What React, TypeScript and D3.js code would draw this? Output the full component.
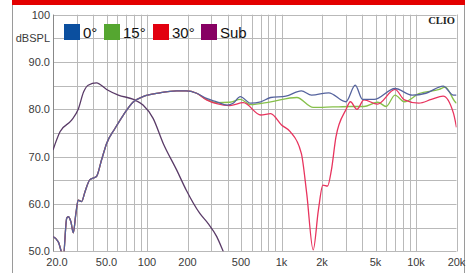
import { useEffect, useRef } from "react";
import * as d3 from "d3";

// frequency (Hz), level (dBSPL)
const lowShared: [number, number][] = [
  [20, 53.1], [21.9, 52.0], [23.2, 49.6], [23.8, 48.5], [25.3, 57], [26, 57.3], [27.2, 56.2],
  [28.3, 53.9], [29.6, 58], [30.8, 60.8], [32.6, 60.5], [34.6, 62.6], [37.5, 65.1],
  [42.1, 65.8], [45.9, 69.3], [50.1, 72.8], [57.9, 76], [66.7, 78.8], [79.3, 81.6],
  [93.4, 82.7], [125, 83.5], [166, 83.9], [196, 83.9], [234, 83.4],
];
const resp0: [number, number][] = [
  [277, 82.3], [330, 81.6], [394, 80.9], [437, 81.3], [494, 82.7], [588, 81.3],
  [701, 81.6], [831, 82.5], [1078, 82.8], [1404, 83.9], [1673, 83], [2244, 83.5],
  [3010, 81.6], [3534, 85.1], [4000, 82.1], [4880, 82.1], [6980, 84.4], [9390, 83],
  [11850, 83.4], [15900, 84.9], [18980, 83], [20000, 83],
];
const resp15: [number, number][] = [
  [277, 82.1], [330, 81.4], [413, 81.5], [494, 82.1], [588, 81.0], [831, 81.6],
  [1300, 82.5], [1720, 80.4], [2400, 80.5], [3250, 80.6], [4100, 80.6], [5200, 81.5],
  [6000, 80.6], [6980, 83], [8200, 81.6], [10500, 83.3], [14900, 84.2], [16500, 84.7],
  [19500, 81.6], [20000, 81.3],
];
const resp30: [number, number][] = [
  [277, 82.0], [330, 81.2], [413, 80.8], [520, 81.4], [701, 78.8], [831, 79.1],
  [1000, 76.7], [1160, 75.3], [1404, 70.7], [1540, 62.2], [1720, 50.3], [1880, 58.7],
  [2030, 64], [2200, 63.8], [2350, 67.2], [2540, 74.2], [3010, 79.9], [3250, 81.6],
  [3640, 80], [4100, 82], [5160, 81.1], [6980, 84.2], [8200, 82], [10500, 81.3],
  [13000, 82.1], [15900, 82.8], [18980, 79.2], [20000, 76.2],
];
const sub: [number, number][] = [
  [20, 71.4], [22.6, 75.3], [27.5, 77.7], [30.8, 80], [33.8, 83.7], [36.5, 85.1],
  [42.1, 85.6], [50.1, 84.2], [61.2, 83.0], [79.3, 82.1], [93.4, 80.9], [111, 78.1],
  [132, 72.8], [166, 67.2], [196, 62.9], [247, 58], [284, 55.9], [330, 53.1],
  [367, 50.1], [400, 47.5],
];

const legend = [
  { label: "0°", color: "#0b4f9f" },
  { label: "15°", color: "#55a630" },
  { label: "30°", color: "#e2000f" },
  { label: "Sub", color: "#870063" },
];
const yTicks = [50, 60, 70, 80, 90, 100];
const yLabels = ["50.0", "60.0", "70.0", "80.0", "90.0", "100"];
const xLabelFreqs = [20, 50, 100, 200, 500, 1000, 2000, 5000, 10000, 20000];
const xLabels = ["20.0", "50.0", "100", "200", "500", "1k", "2k", "5k", "10k", "20k"];

export default function App() {
  const svgRef = useRef<SVGSVGElement>(null);
  const width = 473;
  const height = 273;

  useEffect(() => {
    const svg = d3.select(svgRef.current);
    svg.selectAll("*").remove();

    const x = d3.scaleLog().domain([20, 20000]).range([53, 456.5]);
    const y = d3.scaleLinear().domain([50, 100]).range([251.3, 14.7]);

    // frame
    svg.append("rect").attr("x", 12).attr("y", 0).attr("width", 453).attr("height", 5).attr("fill", "#e30000");
    svg.append("line").attr("x1", 12.5).attr("x2", 12.5).attr("y1", 5).attr("y2", height).attr("stroke", "#9a9a9a");
    svg.append("line").attr("x1", 464.5).attr("x2", 464.5).attr("y1", 5).attr("y2", height).attr("stroke", "#9a9a9a");

    const grid = svg.append("g").attr("stroke", "#b9b9b9").attr("stroke-width", 1);
    const gridFreqs: number[] = [];
    [10, 100, 1000, 10000].forEach((d) => {
      for (let k = 1; k <= 9; k++) {
        const f = d * k;
        if (f >= 20 && f <= 20000) gridFreqs.push(f);
      }
    });
    gridFreqs.push(20000);
    grid.selectAll("line.v").data(gridFreqs).join("line")
      .attr("x1", (d) => Math.round(x(d)) + 0.5).attr("x2", (d) => Math.round(x(d)) + 0.5)
      .attr("y1", y(100)).attr("y2", y(50));
    grid.selectAll("line.h").data(d3.range(50, 101, 5)).join("line")
      .attr("x1", x(20)).attr("x2", x(20000))
      .attr("y1", (d) => Math.round(y(d)) + 0.5).attr("y2", (d) => Math.round(y(d)) + 0.5);
    svg.append("line").attr("x1", 53.5).attr("x2", 53.5).attr("y1", y(100)).attr("y2", y(50)).attr("stroke", "#888");

    svg.append("clipPath").attr("id", "plotclip").append("rect")
      .attr("x", x(20)).attr("y", y(100)).attr("width", x(20000) - x(20)).attr("height", y(50) - y(100));

    const line = d3.line<[number, number]>()
      .x((d) => x(d[0])).y((d) => y(d[1]))
      .curve(d3.curveMonotoneX);

    const plot = svg.append("g").attr("clip-path", "url(#plotclip)").attr("fill", "none").attr("stroke-width", 1.3);
    plot.append("path").attr("d", line(sub)).attr("stroke", "#5a3b68");
    plot.append("path").attr("d", line(lowShared.concat(resp15))).attr("stroke", "#86c04a");
    plot.append("path").attr("d", line(lowShared.concat(resp30))).attr("stroke", "#e8345e");
    plot.append("path").attr("d", line(lowShared.concat(resp0))).attr("stroke", "#55639e");

    // y labels
    const yl = svg.append("g").attr("font-family", "Liberation Sans, Arial, sans-serif").attr("font-size", 11).attr("fill", "#3a3a3a").attr("text-anchor", "end");
    yTicks.forEach((t, i) => {
      yl.append("text").attr("x", 50).attr("y", y(t) + 4).text(yLabels[i]);
    });
    yl.append("text").attr("x", 50).attr("y", y(95) + 4).text("dBSPL");

    const xl = svg.append("g").attr("font-family", "Liberation Sans, Arial, sans-serif").attr("font-size", 11).attr("fill", "#3a3a3a").attr("text-anchor", "middle");
    xLabelFreqs.forEach((f, i) => {
      xl.append("text").attr("x", x(f) + (i === 0 ? 4 : 0)).attr("y", 266).text(xLabels[i]);
    });

    // legend
    const lg = svg.append("g");
    const lx = [64, 104, 153, 201];
    legend.forEach((l, i) => {
      lg.append("rect").attr("x", lx[i]).attr("y", 24).attr("width", 16).attr("height", 16).attr("fill", l.color);
      lg.append("text").attr("x", lx[i] + 19).attr("y", 38)
        .attr("font-family", "Liberation Sans Narrow, Liberation Sans, Arial, sans-serif")
        .attr("font-size", 15).attr("fill", "#111").text(l.label);
    });

    svg.append("text").attr("x", 455).attr("y", 24).attr("text-anchor", "end")
      .attr("font-family", "Liberation Serif, Times New Roman, serif").attr("font-weight", "bold")
      .attr("font-size", 10.5).attr("fill", "#222").text("CLIO");
  }, []);

  return (
    <div style={{ position: "absolute", left: 0, top: 0 }}>
      <svg ref={svgRef} width={width} height={height} style={{ display: "block", background: "#fff" }} />
    </div>
  );
}
